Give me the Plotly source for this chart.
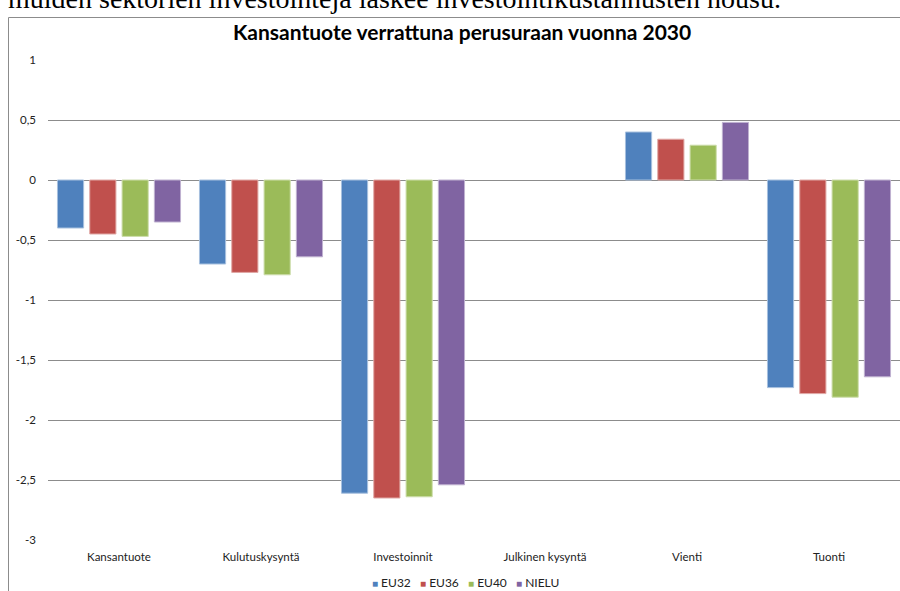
import plotly.graph_objects as go

categories = ["Kansantuote", "Kulutuskysyntä", "Investoinnit", "Julkinen kysyntä", "Vienti", "Tuonti"]
eu32 = [-0.40, -0.70, -2.61, 0.0, 0.40, -1.73]
eu36 = [-0.45, -0.77, -2.65, 0.0, 0.34, -1.78]
eu40 = [-0.47, -0.79, -2.64, 0.0, 0.29, -1.81]
nielu = [-0.35, -0.64, -2.54, 0.0, 0.48, -1.64]
series_names = ["EU32", "EU36", "EU40", "NIELU"]
colors = ["#4F81BD", "#C0504D", "#9BBB59", "#8064A2"]
edge_colors = ["#A7C0DE", "#E0A8A6", "#CDDDAC", "#BFB1D0"]
ytick_vals = [1, 0.5, 0, -0.5, -1, -1.5, -2, -2.5, -3]
ytick_text = ["1", "0,5", "0", "-0,5", "-1", "-1,5", "-2", "-2,5", "-3"]

FONT = "Lato"
fig = go.Figure()
for name, vals, c, ec in zip(series_names, [eu32, eu36, eu40, nielu], colors, edge_colors):
    widths = [0 if v == 0 else 1 for v in vals]
    fig.add_trace(go.Bar(x=categories, y=vals, name=name, showlegend=False,
                         marker=dict(color=c, line=dict(color=ec, width=widths))))

L, R, T, B = 48, 0, 60, 51
W, H = 900, 591
pw, ph = W - L - R, H - T - B

def px(x):
    return (x - L) / pw

def py(y):
    return (H - B - y) / ph

legend_text = "&nbsp;&nbsp;&nbsp;".join(
    f"<span style='color:{c}; font-size:10px'>■</span>&nbsp;{n}" for n, c in zip(series_names, colors)
)

fig.update_layout(
    width=W, height=H,
    margin=dict(l=L, r=R, t=T, b=B, autoexpand=False),
    paper_bgcolor="white", plot_bgcolor="white",
    barmode="group", bargap=0.09, bargroupgap=0.19,
    font=dict(family=FONT, size=11, color="#222"),
    showlegend=False,
    xaxis=dict(showgrid=False, showline=False, ticks="", ticklabelstandoff=8,
               tickfont=dict(family=FONT, size=11.5, color="#222")),
    yaxis=dict(range=[-3, 1], tickvals=ytick_vals, ticktext=ytick_text, showgrid=True,
               gridcolor="#8C8C8C", gridwidth=1, zeroline=True, zerolinecolor="#8C8C8C", zerolinewidth=1,
               showline=False, ticks="", ticklabelstandoff=11,
               tickfont=dict(family=FONT, size=11.5, color="#222")),
    shapes=[dict(type="rect", xref="paper", yref="paper", x0=px(8.5), x1=px(905), y0=py(600), y1=py(17.5),
                 line=dict(color="#8C8C8C", width=1), fillcolor="rgba(0,0,0,0)", layer="below")],
    annotations=[
        dict(text="<b>Kansantuote verrattuna perusuraan vuonna 2030</b>", xref="paper", yref="paper",
             x=px(462), y=py(32), xanchor="center", yanchor="middle", showarrow=False,
             font=dict(family=FONT, size=21, color="#000")),
        dict(text="muiden sektorien investointeja laskee investointikustannusten nousu.", xref="paper", yref="paper",
             x=px(783), y=py(16), xanchor="right", yanchor="bottom", showarrow=False,
             font=dict(family="Liberation Serif", size=28, color="#000")),
        dict(text=legend_text, xref="paper", yref="paper", x=px(465), y=py(582), xanchor="center",
             yanchor="middle", showarrow=False, font=dict(family=FONT, size=12, color="#222")),
    ],
)

fig.write_html("out.html", config={"displayModeBar": False},
               post_script="document.body.style.margin='0';document.body.style.overflow='hidden';")
